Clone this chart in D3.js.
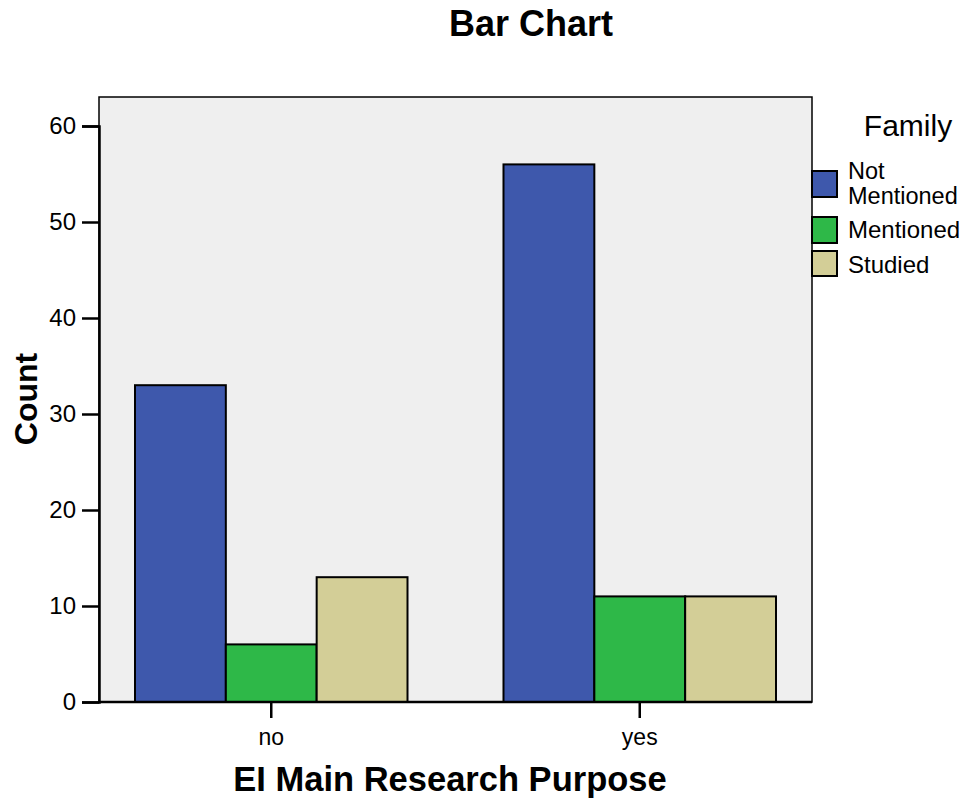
<!DOCTYPE html>
<html><head><meta charset="utf-8">
<script src="https://cdn.jsdelivr.net/npm/d3@7"></script>
<style>body{margin:0;background:#fff}svg{display:block}text{font-family:"Liberation Sans",Arial,sans-serif}</style>
</head><body>
<svg id="c" width="969" height="800"></svg>
<script>
const categories = ["no", "yes"];
const seriesNames = ["Not Mentioned", "Mentioned", "Studied"];
const notMentioned = [33, 56];
const mentioned = [6, 11];
const studied = [13, 11];
const yTicks = [0, 10, 20, 30, 40, 50, 60];
const colors = ["#3E58AC", "#2EB848", "#D3CE97"];
const series = [notMentioned, mentioned, studied];

const FF = '"Liberation Sans",Arial,sans-serif';
const svg = d3.select("#c");
const L = 99, R = 812, T = 97, B = 702;
const y = d3.scaleLinear().domain([0, 60]).range([B, 126]);
const x0 = d3.scaleBand().domain(categories).range([L, R]).paddingInner(0.2605).paddingOuter(0.0977);
const x1 = d3.scaleBand().domain(d3.range(3)).range([0, x0.bandwidth()]);

svg.append("rect").attr("x", L).attr("y", T).attr("width", R - L).attr("height", B - T)
  .attr("fill", "#EFEFEF").attr("stroke", "#000").attr("stroke-width", 1.5);

categories.forEach((c, ci) => {
  series.forEach((s, si) => {
    svg.append("rect")
      .attr("x", x0(c) + x1(si)).attr("y", y(s[ci]))
      .attr("width", x1.bandwidth()).attr("height", B - y(s[ci]))
      .attr("fill", colors[si]).attr("stroke", "#000").attr("stroke-width", 2);
  });
});

const yAxis = svg.append("g").attr("transform", `translate(${L},0)`)
  .call(d3.axisLeft(y).tickValues(yTicks).tickSize(17).tickPadding(6));
yAxis.select(".domain").attr("stroke-width", 2.5);
yAxis.selectAll(".tick line").attr("stroke-width", 2.5);
yAxis.selectAll("text").attr("font-size", 24).attr("fill", "#000").style("font-family", FF);

const xAxis = svg.append("g").attr("transform", `translate(0,${B})`)
  .call(d3.axisBottom(x0).tickSize(16).tickPadding(0).tickSizeOuter(0));
xAxis.select(".domain").attr("stroke-width", 2.5).attr("d", `M${L},0H${R}`);
xAxis.selectAll(".tick line").attr("stroke-width", 2.5);
xAxis.selectAll("text").attr("font-size", 23).attr("fill", "#000").style("font-family", FF)
  .attr("dy", null).attr("y", 43);

svg.append("text").attr("x", 531).attr("y", 36).attr("text-anchor", "middle")
  .attr("font-size", 36).attr("font-weight", "bold").text("Bar Chart");
svg.append("text").attr("transform", "translate(37,399) rotate(-90)").attr("text-anchor", "middle")
  .attr("font-size", 32).attr("font-weight", "bold").text("Count");
svg.append("text").attr("x", 450).attr("y", 791).attr("text-anchor", "middle")
  .attr("font-size", 34.5).attr("font-weight", "bold").text("EI Main Research Purpose");

svg.append("text").attr("x", 908).attr("y", 136).attr("text-anchor", "middle")
  .attr("font-size", 30).text("Family");
const legY = [171, 217, 251];
const legH = [26, 26, 25];
seriesNames.forEach((n, i) => {
  svg.append("rect").attr("x", 812).attr("y", legY[i]).attr("width", 25).attr("height", legH[i])
    .attr("fill", colors[i]).attr("stroke", "#000").attr("stroke-width", 2);
});
const t0 = svg.append("text").attr("x", 848).attr("font-size", 23.5);
t0.append("tspan").attr("x", 848).attr("y", 179).text("Not");
t0.append("tspan").attr("x", 848).attr("y", 204).text("Mentioned");
svg.append("text").attr("x", 848).attr("y", 238).attr("font-size", 24).text("Mentioned");
svg.append("text").attr("x", 848).attr("y", 273).attr("font-size", 24).text("Studied");
</script>
</body></html>
